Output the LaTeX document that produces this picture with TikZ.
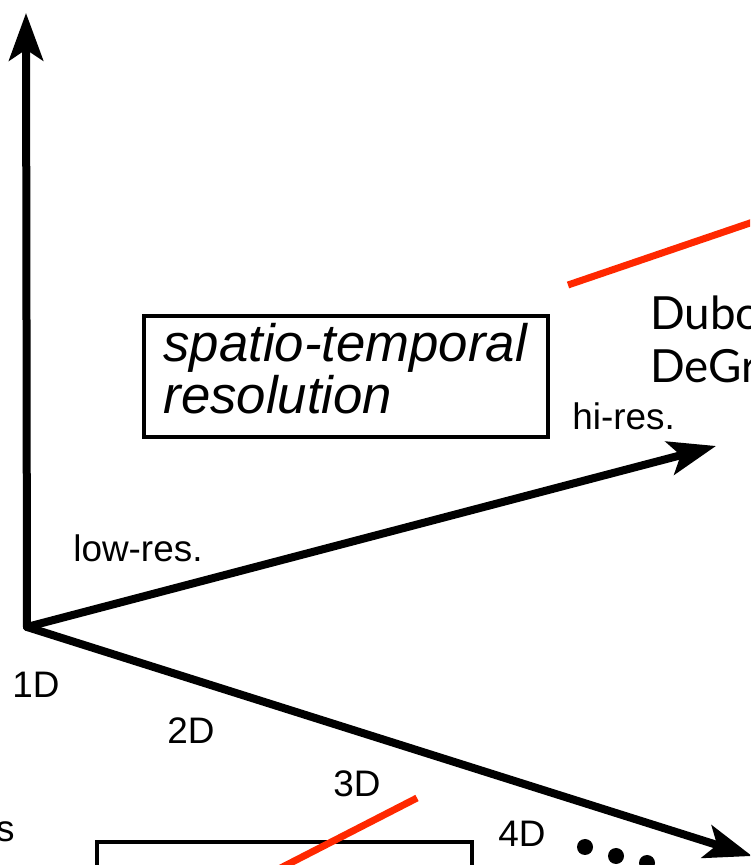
\documentclass[tikz,border=0pt]{standalone}
\usepackage{fontspec}
\setmainfont{Liberation Sans}
\newfontfamily\namefont{Lato}
\usepackage{xcolor}
\definecolor{hlred}{RGB}{255,40,0}
\usetikzlibrary{arrows.meta, positioning}
\tikzset{
    axis/.style={line width=0.16cm, line cap=round, -{Stealth[length=0.95cm, width=0.68cm, inset=0.22cm]}},
    dimlabel/.style={font=\fontsize{21}{24}\selectfont, inner sep=0pt, anchor=base west},
    namelabel/.style={font=\namefont\fontsize{26}{30}\selectfont, inner sep=0pt, anchor=base west},
    titlebox/.style={draw, line width=2pt, rectangle, minimum width=8.08cm, minimum height=2.42cm, text width=7.3cm, inner xsep=0.38cm, align=left, font=\itshape\fontsize{30}{29.5}\selectfont},
    redline/.style={line width=0.14cm, draw=hlred},
    dot/.style={fill=black}
}
\begin{document}
\begin{tikzpicture}
        \useasboundingbox (0,0) rectangle (15,17.3);
        \clip (0,0) rectangle (15,17.3);

        % Axes from a common origin
        \coordinate (O) at (0.54,4.76);
        \coordinate (top) at (0.52,17.04);
        \coordinate (hires) at (14.32,8.38);
        \coordinate (dims) at (15.04,0.18);
        \draw[axis] (O) -- (top);
        \draw[axis] (O) -- (hires);
        \draw[axis] (O) -- (dims);

        % Resolution axis
        \node[titlebox] (res) at (6.92,9.77) {spatio-temporal\\resolution\strut};
        \node[dimlabel] (lowres) at (1.46,6.06) {low-res.};
        \node[dimlabel] (hireslbl) at (11.44,8.70) {hi-res.};

        % Dimension axis
        \node[dimlabel] (d1) at (0.24,3.34) {1D};
        \node[dimlabel] (d2) at (3.34,2.42) {2D};
        \node[dimlabel] (d3) at (6.66,1.36) {3D};
        \node[dimlabel] (d4) at (9.96,0.36) {4D};
        \foreach \x/\y in {11.70/0.36, 12.32/0.18, 12.94/0.04} {
            \fill[dot] (\x,\y) circle (0.16cm);
        }

        % Cut-off parts at the edges
        \node[dimlabel, anchor=base east] (tail) at (0.30,0.46) {s};
        \draw[line width=2pt] (1.94,0.46) rectangle (9.44,-0.8);
        \node[namelabel] (nameA) at (13.0,10.70) {Dubo};
        \node[namelabel] (nameB) at (13.0,9.64) {DeGr};

        % Red marks
        \coordinate (r1a) at (11.36,11.60);
        \coordinate (r1b) at (16.0,13.18);
        \coordinate (r2a) at (8.34,1.34);
        \coordinate (r2b) at (4.6,-0.58);
        \draw[redline] (r1a) -- (r1b);
        \draw[redline] (r2a) -- (r2b);
\end{tikzpicture}
\end{document}
